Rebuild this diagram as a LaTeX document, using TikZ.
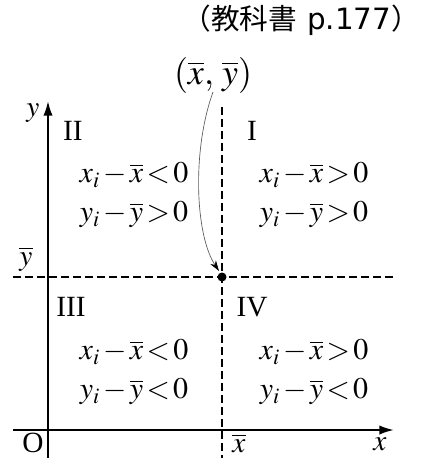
\documentclass[tikz,border=0pt]{standalone}
\usepackage{mathptmx}
\usepackage{fontspec}
\setmainfont{Liberation Serif}
\newfontfamily\jp{Noto Sans CJK JP}
\newfontfamily\dv{DejaVu Sans}
\usetikzlibrary{arrows.meta}
\begin{document}
\medmuskip=2mu
\thickmuskip=2mu
\begin{tikzpicture}[x=0.75pt,y=-0.75pt,
  axis/.style={line width=1.5pt},
  dline/.style={line width=1.3pt,dash pattern=on 6pt off 3pt},
  mtext/.style={font=\fontsize{22.5}{26}\selectfont,inner sep=0pt},
  roman/.style={font=\fontsize{22}{26}\selectfont,inner sep=0pt},
  lbl/.style={font=\fontsize{22}{26}\selectfont,inner sep=0pt}]
\useasboundingbox (0,0) rectangle (421,458);
% title
\node[font=\fontsize{21.5}{26}\selectfont,inner sep=0pt,anchor=east] (title) at (420,20) {{\jp （教科書}\hspace{0.35em}{\dv\fontsize{22}{26}\selectfont p.177}{\jp ）}};
% axes
\coordinate (xa0) at (13,430);
\coordinate (xa1) at (394,430);
\coordinate (ya0) at (48,458);
\coordinate (ya1) at (48,101);
\draw[axis,-{Latex[length=11pt,width=7pt]}] (xa0) -- (xa1);
\draw[axis,-{Latex[length=11pt,width=7pt]}] (ya0) -- (ya1);
% dashed lines
\coordinate (v0) at (222,107);
\coordinate (v1) at (222,458);
\coordinate (h0) at (13,277);
\coordinate (h1) at (396,277);
\draw[dline] (v0) -- (v1);
\draw[dline] (h0) -- (h1);
\fill (222,277) circle (4.5) coordinate (mean);
% labels
\node[lbl] (ylab) at (33,113) {$y$};
\node[lbl] (xlab) at (380,444) {$x$};
\node[lbl] (O) at (33,443) {O};
\node[lbl] (xbar) at (239,443) {$\overline{x}$};
\node[lbl] (ybar) at (26,259) {$\overline{y}$};
\node[font=\fontsize{27}{30}\selectfont,inner sep=0pt] (pt) at (213,75) {$(\overline{x},\;\overline{y})$};
% roman numerals
\node[roman] (q2) at (73,131) {II};
\node[roman] (q1) at (252,131) {I};
\node[roman] (q3) at (71,307) {III};
\node[roman] (q4) at (252,307) {IV};
% inequalities
\node[mtext] (a1) at (134,175) {$x_i-\overline{x}<0$};
\node[mtext] (a2) at (134,215) {$y_i-\overline{y}>0$};
\node[mtext] (b1) at (314,175) {$x_i-\overline{x}>0$};
\node[mtext] (b2) at (314,215) {$y_i-\overline{y}>0$};
\node[mtext] (c1) at (134,352) {$x_i-\overline{x}<0$};
\node[mtext] (c2) at (134,392) {$y_i-\overline{y}<0$};
\node[mtext] (d1) at (314,352) {$x_i-\overline{x}>0$};
\node[mtext] (d2) at (314,392) {$y_i-\overline{y}<0$};
% curved arrow
\coordinate (cs) at (213,92);
\coordinate (ce) at (219,271);
\draw[gray!70!black,line width=0.5pt,-{Stealth[length=8pt,width=5pt,black]}] (cs) .. controls (192,150) and (195,235) .. (ce);
\end{tikzpicture}
\end{document}
